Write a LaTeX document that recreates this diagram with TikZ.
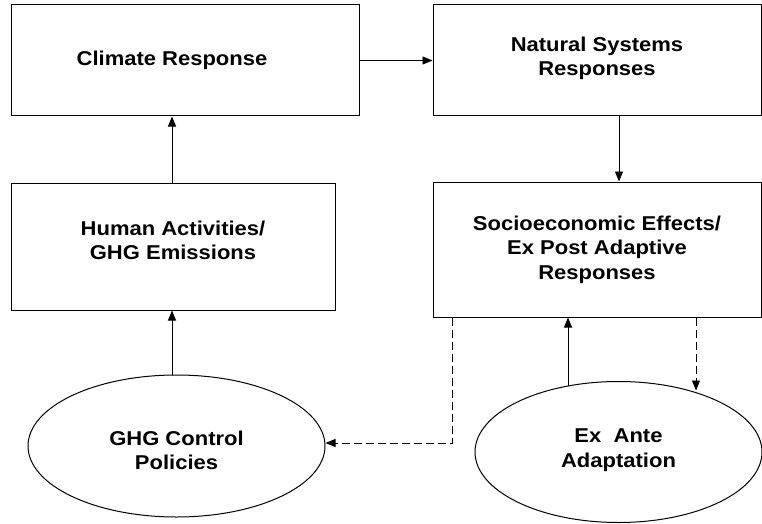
\documentclass[tikz,border=0pt]{standalone}
\usepackage{fontspec}
\setmainfont[FakeStretch=1.1]{Liberation Sans}
\usetikzlibrary{arrows.meta,shapes.geometric,calc}
\tikzset{
  box/.style={draw, rectangle, line width=1pt, inner sep=0pt, align=center,
    font=\fontsize{20}{24.5}\selectfont\bfseries},
  oval/.style={draw, ellipse, line width=1pt, inner sep=0pt, align=center,
    font=\fontsize{20}{24.5}\selectfont\bfseries},
  conn/.style={line width=0.9pt, -{Triangle[length=10pt,width=8pt]}},
  dconn/.style={conn, dash pattern=on 8pt off 4pt}
}
\begin{document}
\begin{tikzpicture}[x=1pt,y=-1pt]
\useasboundingbox (0,0) rectangle (762,524);
\node[box, minimum width=348pt, minimum height=111pt] (climate) at (185,60.5) {Climate Response\hspace*{26pt}};
\node[box, minimum width=328pt, minimum height=111pt, text depth=8pt] (natural) at (597,60.5) {Natural Systems\\Responses};
\node[box, minimum width=324pt, minimum height=127pt, text depth=12pt] (human) at (173,246.5) {Human Activities/\\GHG Emissions};
\node[box, minimum width=328pt, minimum height=135pt] (socio) at (597,249.5) {Socioeconomic Effects/\\Ex Post Adaptive\\Responses};
\node[oval, minimum width=297pt, minimum height=142pt, text height=48pt] (ghg) at (176.5,446) {GHG Control\\Policies};
\node[oval, minimum width=287pt, minimum height=141pt, text depth=8pt] (exante) at (618.5,452) {Ex~~Ante\\Adaptation};

\draw[conn] (climate.east) -- (natural.west);
\draw[conn] (natural.south -| 619,0) -- (socio.north -| 619,0);
\draw[conn] (human.north -| 172,0) -- (climate.south -| 172,0);
\draw[conn] (ghg.north -| 172,0) -- (human.south -| 172,0);
\draw[conn] (exante.north -| 568,0) ++(0,5) -- (socio.south -| 568,0);
\draw[dconn] (socio.south -| 696,0) -- ++(0,73);
\draw[dconn] (socio.south -| 452,0) |- ($(ghg.east)+(0,-3)$);
\end{tikzpicture}
\end{document}
